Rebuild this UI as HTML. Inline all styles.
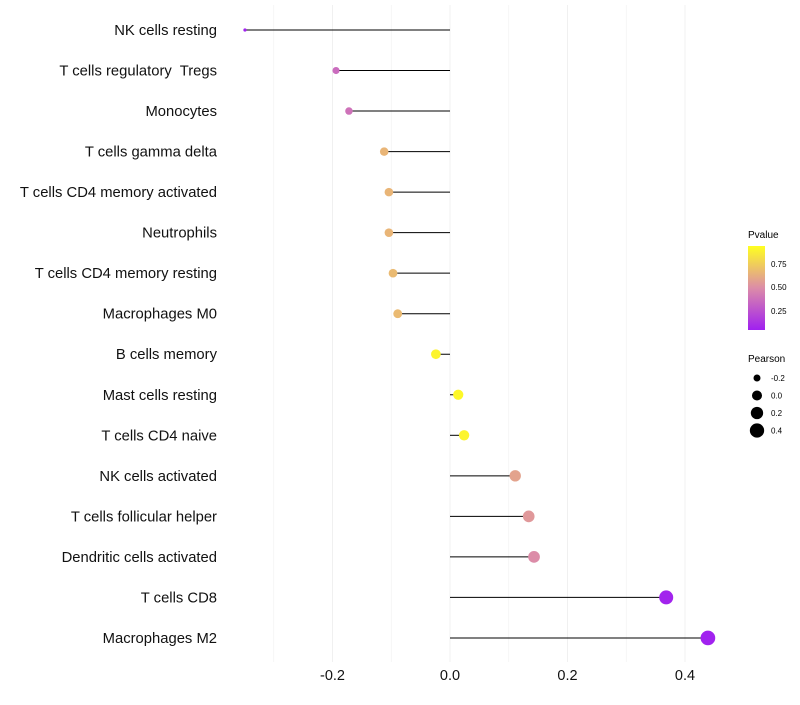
<!DOCTYPE html>
<html><head><meta charset="utf-8"><style>
body{margin:0;background:#fff;font-family:"Liberation Sans",sans-serif;}
svg text{font-family:"Liberation Sans",sans-serif;white-space:pre;}
</style></head><body>
<svg id="chart" width="800" height="700" xmlns="http://www.w3.org/2000/svg">
<defs><linearGradient id="pg" x1="0" y1="1" x2="0" y2="0">
<stop offset="0" stop-color="#a020f0"/><stop offset="0.5" stop-color="#dc8ca8"/><stop offset="1" stop-color="#ffff20"/>
</linearGradient></defs>
<g id="grid"></g><g id="marks"></g><g id="ylab"></g><g id="xlab"></g>
<g>
<text x="748" y="238" font-size="10">Pvalue</text>
<rect x="748" y="246" width="17" height="84" fill="url(#pg)"/>
<text x="771" y="267" font-size="8">0.75</text>
<text x="771" y="290" font-size="8">0.50</text>
<text x="771" y="314" font-size="8">0.25</text>
</g>
<g id="sizeleg">
<text x="748" y="362" font-size="10">Pearson</text>
</g>
</svg>
<script>
const categories=["NK cells resting","T cells regulatory  Tregs","Monocytes","T cells gamma delta","T cells CD4 memory activated","Neutrophils","T cells CD4 memory resting","Macrophages M0","B cells memory","Mast cells resting","T cells CD4 naive","NK cells activated","T cells follicular helper","Dendritic cells activated","T cells CD8","Macrophages M2"];
const pearson=[-0.349,-0.194,-0.172,-0.112,-0.104,-0.104,-0.097,-0.089,-0.024,0.014,0.024,0.111,0.134,0.143,0.368,0.439];
const pvalue=[0.01,0.35,0.38,0.68,0.68,0.68,0.7,0.7,0.95,0.97,0.95,0.6,0.55,0.5,0.02,0.01];
const xTicks=[-0.2,0.0,0.2,0.4];
const xMinor=[-0.3,-0.1,0.1,0.3];
const sizeLegend=[-0.2,0.0,0.2,0.4];
const NS="http://www.w3.org/2000/svg";
const X=v=>450+v*587.5;
const Y=i=>30+i*40.53;
const R=v=>Math.sqrt(Math.max(1.5,2.5+(v+0.35)*65));
function lerp(a,b,t){return a.map((x,i)=>Math.round(x+(b[i]-x)*t));}
function col(p){const s=[[160,32,240],[220,140,168],[255,255,32]];const c=p<0.5?lerp(s[0],s[1],p/0.5):lerp(s[1],s[2],(p-0.5)/0.5);return `rgb(${c.join(',')})`;}
function mk(tag,attrs,parent,txt){const e=document.createElementNS(NS,tag);for(const k in attrs)e.setAttribute(k,attrs[k]);if(txt!==undefined)e.textContent=txt;document.getElementById(parent).appendChild(e);return e;}
xMinor.concat(xTicks).forEach(v=>{
 const l=mk('line',{x1:X(v),x2:X(v),y1:5,y2:662,stroke:'#f0f0f0','stroke-width':xTicks.includes(v)?1:0.6},'grid');
 
 
});
xTicks.forEach(v=>{
 const t=mk('text',{x:X(v),y:680,'font-size':14.5,'text-anchor':'middle',fill:'#111'},'xlab',v.toFixed(1));
 
 
});
categories.forEach((c,i)=>{
 const t=mk('text',{x:217,y:Y(i)+5,'font-size':14.8,'text-anchor':'end',fill:'#111'},'ylab',c);
 
 
 const l=mk('line',{x1:X(0),x2:X(pearson[i]),y1:Y(i),y2:Y(i),stroke:'#000','stroke-width':1},'marks');
 
 
 const p=mk('circle',{cx:X(pearson[i]),cy:Y(i),r:R(pearson[i]),fill:col(pvalue[i])},'marks');
 
 
});
sizeLegend.forEach((v,i)=>{
 const y=378+i*17.5;
 const c=mk('circle',{cx:757,cy:y,r:R(v),fill:'#000'},'sizeleg');
 
 
 const t=mk('text',{x:771,y:y+3,'font-size':8},'sizeleg',v.toFixed(1));
 
 
});
</script>
</body></html>
